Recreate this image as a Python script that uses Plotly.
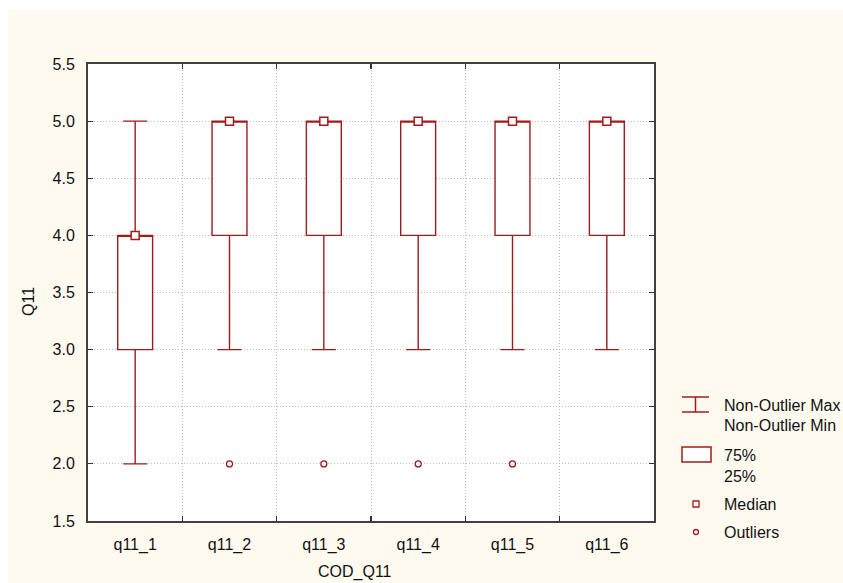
import plotly.graph_objects as go

# ---- data ----
categories = ["q11_1", "q11_2", "q11_3", "q11_4", "q11_5", "q11_6"]
non_outlier_min = [2, 3, 3, 3, 3, 3]
q1_values = [3, 4, 4, 4, 4, 4]
median_values = [4, 5, 5, 5, 5, 5]
q3_values = [4, 5, 5, 5, 5, 5]
non_outlier_max = [5, 5, 5, 5, 5, 5]
outlier_x = ["q11_2", "q11_3", "q11_4", "q11_5"]
outlier_y = [2, 2, 2, 2]
y_ticks = [1.5, 2.0, 2.5, 3.0, 3.5, 4.0, 4.5, 5.0, 5.5]

W, H = 843, 583
# plot area in screen pixels
L, R, T, B = 88, 654, 64, 521
RED = "#a01c1c"
CREAM = "#fffaf0"
FONT = "Liberation Sans, Arial, sans-serif"
FS = 16


def px(x):
    return (x - L) / (R - L)


def py(y):
    return (B - y) / (B - T)


fig = go.Figure()
fig.add_trace(go.Box(
    x=categories, q1=q1_values, median=median_values, q3=q3_values,
    lowerfence=non_outlier_min, upperfence=non_outlier_max,
    width=0.37, whiskerwidth=0.69, fillcolor="white",
    line=dict(color=RED, width=1.4), boxpoints=False, hoverinfo="skip",
    showlegend=False,
))
fig.add_trace(go.Scatter(
    x=categories, y=median_values, mode="markers",
    marker=dict(symbol="square", size=8, color="white", line=dict(color=RED, width=1.5)),
    hoverinfo="skip", showlegend=False,
))
fig.add_trace(go.Scatter(
    x=outlier_x, y=outlier_y, mode="markers",
    marker=dict(symbol="circle", size=6, color="white", line=dict(color=RED, width=1.3)),
    hoverinfo="skip", showlegend=False,
))

shapes = [
    # white strips at the left and top of the page
    dict(type="rect", xref="paper", yref="paper", x0=px(-5), x1=px(8), y0=py(H + 5), y1=py(-5),
         fillcolor="white", line=dict(width=0), layer="below"),
    dict(type="rect", xref="paper", yref="paper", x0=px(-5), x1=px(W + 5), y0=py(10), y1=py(-5),
         fillcolor="white", line=dict(width=0), layer="below"),
]
# legend symbols
lc = dict(color=RED, width=1.5)
shapes += [
    dict(type="line", xref="paper", yref="paper", x0=px(682), x1=px(709), y0=py(397), y1=py(397), line=lc),
    dict(type="line", xref="paper", yref="paper", x0=px(682), x1=px(709), y0=py(412), y1=py(412), line=lc),
    dict(type="line", xref="paper", yref="paper", x0=px(695.5), x1=px(695.5), y0=py(397), y1=py(412), line=lc),
    dict(type="rect", xref="paper", yref="paper", x0=px(682), x1=px(711), y0=py(462), y1=py(447),
         line=lc, fillcolor="white"),
    dict(type="rect", xref="paper", yref="paper", x0=px(693), x1=px(699), y0=py(507), y1=py(501),
         line=dict(color=RED, width=1.3), fillcolor="white"),
    dict(type="circle", xref="paper", yref="paper", x0=px(693.5), x1=px(698.5), y0=py(534.5), y1=py(529.5),
         line=dict(color=RED, width=1.3), fillcolor="white"),
]

tf = dict(family=FONT, size=FS, color="#111111")
annotations = [
    dict(text="Non-Outlier Max", x=px(722), y=py(405), xref="paper", yref="paper",
         xanchor="left", yanchor="middle", showarrow=False, font=tf),
    dict(text="Non-Outlier Min", x=px(722), y=py(425), xref="paper", yref="paper",
         xanchor="left", yanchor="middle", showarrow=False, font=tf),
    dict(text="75%", x=px(722), y=py(455), xref="paper", yref="paper",
         xanchor="left", yanchor="middle", showarrow=False, font=tf),
    dict(text="25%", x=px(722), y=py(476), xref="paper", yref="paper",
         xanchor="left", yanchor="middle", showarrow=False, font=tf),
    dict(text="Median", x=px(722), y=py(504), xref="paper", yref="paper",
         xanchor="left", yanchor="middle", showarrow=False, font=tf),
    dict(text="Outliers", x=px(722), y=py(532), xref="paper", yref="paper",
         xanchor="left", yanchor="middle", showarrow=False, font=tf),
    dict(text="COD_Q11", x=px(354.5), y=py(572), xref="paper", yref="paper",
         xanchor="center", yanchor="middle", showarrow=False, font=tf),
    dict(text="Q11", x=px(28), y=py(302), xref="paper", yref="paper", textangle=-90,
         xanchor="center", yanchor="middle", showarrow=False, font=tf),
]

fig.update_layout(
    width=W, height=H,
    margin=dict(l=L, r=W - R, t=T, b=H - B, pad=0),
    paper_bgcolor=CREAM, plot_bgcolor="white",
    font=tf, shapes=shapes, annotations=annotations, showlegend=False,
)
grid = dict(showgrid=True, gridcolor="#bdbdbd", griddash="1px,2px", gridwidth=1)
fig.update_xaxes(
    type="category", categoryorder="array", categoryarray=categories,
    range=[-0.5, 5.5], tickson="boundaries", ticks="inside", ticklen=5, tickwidth=1.2,
    tickcolor="#303030", showline=True, linecolor="#404040", linewidth=2, mirror="ticks",
    tickfont=tf, ticklabelstandoff=8, zeroline=False, **grid,
)
fig.update_yaxes(
    range=[1.5, 5.5], tickvals=y_ticks, tickformat=".1f", ticks="inside", ticklen=5,
    tickwidth=1.2, tickcolor="#303030", showline=True, linecolor="#404040", linewidth=2,
    mirror="ticks", tickfont=tf, ticklabelstandoff=8, zeroline=False, **grid,
)

fig.write_html(
    "out.html",
    config={"displayModeBar": False, "staticPlot": True},
    post_script="document.body.style.margin='0';document.body.style.overflow='hidden';",
)
